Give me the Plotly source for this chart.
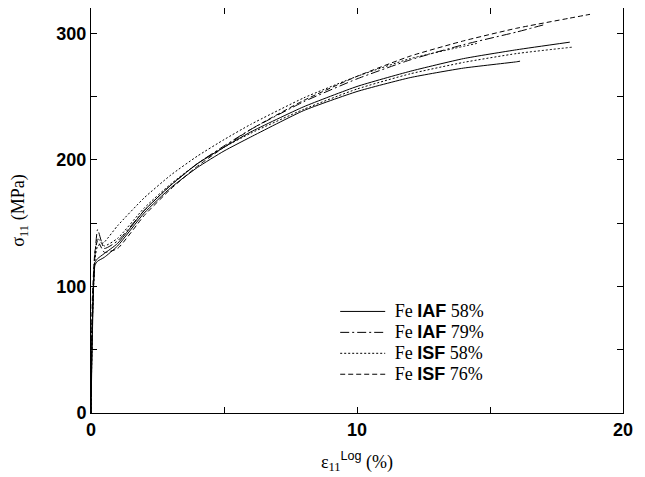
import plotly.graph_objects as go

# strain (%) and stress (MPa) per curve
strain_a = [0, 0.05, 0.15, 0.25, 0.5, 1, 2, 3, 4, 5, 6, 8, 10, 12, 14, 16, 16.13]
iaf58a_y = [0, 60, 117, 120, 123, 132, 158, 178, 194, 207, 218, 239, 254, 265, 272.5, 277.5, 278]
strain_b = [0, 0.05, 0.15, 0.25, 0.5, 1, 2, 3, 4, 5, 6, 8, 10, 12, 14, 16, 18]
iaf58b_y = [0, 70, 119, 122, 126, 134, 160, 180, 197, 210, 222, 242, 258, 270, 280, 287, 293]
strain_c = [0, 0.05, 0.15, 0.25, 0.5, 1, 2, 3, 4, 5, 6, 8, 10, 12, 14, 16, 17]
iaf79_y = [0, 80, 125, 145, 130, 136, 160, 180, 197, 211, 224, 246, 264, 279, 291, 301, 306.6]
strain_d = [0, 0.05, 0.15, 0.25, 0.5, 1, 2, 3, 4, 5, 6, 8, 10, 12, 14, 16, 18.07]
isf58a_y = [0, 70, 125, 138, 132, 138, 162, 181, 197, 210, 221, 240, 256, 268, 277, 284, 289]
strain_e = [0, 0.05, 0.15, 0.25, 0.5, 1, 2, 3, 4, 5, 6, 8, 10, 12, 14.5]
isf58b_y = [0, 75, 122, 132, 135, 148, 170, 188, 203, 216, 228, 249, 266, 280, 292]
strain_f = [0, 0.05, 0.15, 0.25, 0.5, 1, 2, 3, 4, 5, 6, 8, 10, 12, 14, 16, 18, 18.76]
isf76_y = [0, 90, 128, 136, 127, 130, 156, 177, 195, 210, 224, 247, 266, 282, 294, 304, 312, 315]

SERIF = "Liberation Serif"
SANS = "Liberation Sans"


def lbl(kind, pct):
    return (f"<span style='font-size:18px'>&nbsp;Fe "
            f"<span style='font-family:{SANS}'><b>{kind}</b></span> {pct}%</span>")


curves = [
    (strain_a, iaf58a_y, "solid", lbl("IAF", 58), True),
    (strain_b, iaf58b_y, "solid", lbl("IAF", 58), False),
    (strain_c, iaf79_y, "9px,3px,2px,3px", lbl("IAF", 79), True),
    (strain_d, isf58a_y, "2px,2px", lbl("ISF", 58), True),
    (strain_e, isf58b_y, "2px,2px", lbl("ISF", 58), False),
    (strain_f, isf76_y, "5px,3px", lbl("ISF", 76), True),
]

fig = go.Figure()
for x, y, dash, name, show in curves:
    fig.add_trace(go.Scatter(
        x=x, y=y, mode="lines", name=name, showlegend=show,
        line=dict(color="black", width=1, dash=dash, shape="spline", smoothing=0.5),
    ))

axis_common = dict(
    showline=True, linecolor="black", linewidth=1, mirror="ticks",
    ticks="inside", ticklen=6, tickcolor="black", tickwidth=1,
    showgrid=False, zeroline=False,
    tickfont=dict(family=SANS, size=18, color="black", weight="bold"),
)

fig.update_layout(
    width=637, height=469,
    margin=dict(l=83, r=22, t=0, b=64),
    paper_bgcolor="white", plot_bgcolor="white",
    xaxis=dict(range=[0, 20], dtick=10, tick0=0,
               minor=dict(dtick=5, ticks="inside", ticklen=6, tickcolor="black"),
               title=dict(text=f"ε<sub>11</sub><sup><span style='font-family:{SANS}'>Log</span></sup> (%)",
                          font=dict(family=SERIF, size=18, color="black"), standoff=16),
               **axis_common),
    yaxis=dict(range=[0, 320], dtick=100, tick0=0,
               minor=dict(dtick=50, ticks="inside", ticklen=6, tickcolor="black"),
               title=dict(text="σ<sub>11</sub> (MPa)",
                          font=dict(family=SERIF, size=18, color="black"), standoff=28),
               **axis_common),
    legend=dict(x=0.459, y=0.289, xanchor="left", yanchor="top",
                bgcolor="rgba(0,0,0,0)", borderwidth=0,
                font=dict(family=SERIF, size=13.8, color="black"),
                tracegroupgap=0, itemwidth=45),
    showlegend=True,
)

fig.write_html("out.html")
